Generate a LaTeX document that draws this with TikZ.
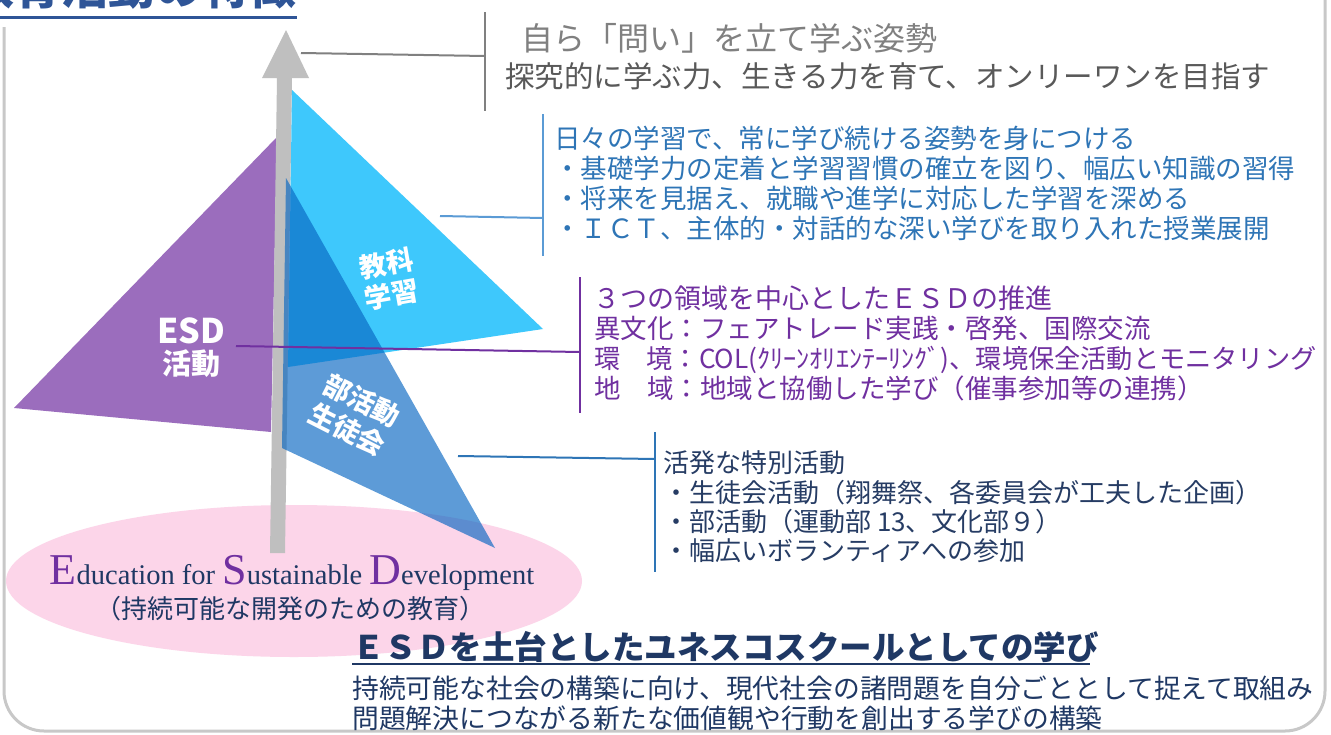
\documentclass[tikz,border=0pt]{standalone}
\usepackage{fontspec}
\setmainfont{Noto Sans CJK JP}
\newfontfamily\enfont{Liberation Serif}
\usetikzlibrary{positioning}

\definecolor{framegray}{RGB}{200,200,200}
\definecolor{titleblue}{RGB}{47,85,151}
\definecolor{arrowgray}{RGB}{191,191,191}
\definecolor{esdpurple}{RGB}{155,109,189}
\definecolor{kyokacyan}{RGB}{62,200,252}
\definecolor{bukatsublue}{RGB}{7,102,194}
\definecolor{esdpink}{RGB}{252,213,233}
\definecolor{mottogray}{RGB}{128,128,128}
\definecolor{mottodark}{RGB}{89,89,89}
\definecolor{kyokatext}{RGB}{46,117,182}
\definecolor{kyokaline}{RGB}{91,155,213}
\definecolor{esdtext}{RGB}{112,48,160}
\definecolor{bukatsutext}{RGB}{38,60,100}
\definecolor{bukatsuline}{RGB}{46,117,182}
\definecolor{navy}{RGB}{31,56,100}

\newcommand{\capletter}[1]{{\color{esdtext}\fontsize{44}{46}\selectfont #1}}

\tikzset{
  textline/.style={anchor=base west,inner sep=0pt},
  trilabel/.style={text=white,align=center,inner sep=0pt,font=\bfseries\fontsize{27}{33}\selectfont},
  bracket/.style={line width=2pt}
}

\begin{document}
\begin{tikzpicture}[x=1pt,y=-1pt]
\useasboundingbox (0,0) rectangle (1331,734);
\fill[white] (0,0) rectangle (1331,734);

% frame and title
\draw[framegray,line width=3pt,rounded corners=40pt] (4,-40) rectangle (1325,731);
\fill[white] (0,0) rectangle (300,27);
\node[anchor=base east,inner sep=0pt,text=titleblue,font=\bfseries\fontsize{47}{50}\selectfont] (title) at (297,4) {教育活動の特徴};
\draw[titleblue,line width=3pt] (0,17) -- (297,17);

% base ellipse
\fill[esdpink] (294,581) ellipse [x radius=288pt, y radius=76pt];

% triangles and arrow
\fill[esdpurple] (277,137) -- (14,408) -- (271,432) -- cycle;
\fill[arrowgray] (277,78) -- (262,78) -- (286,30) -- (309,78) -- (292,78) -- (285,553) -- (270,553) -- cycle;
\fill[kyokacyan] (292,90) -- (543,329) -- (288,367) -- cycle;
\fill[bukatsublue,opacity=0.65] (286,178) -- (495,548) -- (282,448) -- cycle;

\node[trilabel,rotate=10,font=\bfseries\fontsize{27}{31}\selectfont] (kyoka) at (389,279) {教科\\学習};
\node[trilabel,font=\bfseries\fontsize{29}{31}\selectfont] (esd) at (191,348) {{\fontsize{34}{35}\selectfont ESD}\\活動};
\node[trilabel,rotate=-27] (bukatsu) at (355,415) {部活動\\生徒会};

% ellipse text
\node[anchor=base,inner sep=0pt,text=navy,font=\enfont\fontsize{28.5}{30}\selectfont] (esd-en) at (292,584) {\capletter{E}ducation for \capletter{S}ustainable \capletter{D}evelopment};
\node[anchor=base,inner sep=0pt,text=navy,font=\fontsize{26}{28}\selectfont] (esd-jp) at (290,618) {（持続可能な開発のための教育）};

% connectors
\coordinate (motto-in) at (301,53);
\coordinate (motto-out) at (485,56);
\coordinate (motto-top) at (485,12);
\coordinate (motto-bot) at (485,111);
\draw[mottogray,bracket] (motto-in) -- (motto-out);
\draw[mottogray,bracket] (motto-top) -- (motto-bot);

\coordinate (kyoka-in) at (440,216);
\coordinate (kyoka-out) at (543,218);
\coordinate (kyoka-top) at (543,114);
\coordinate (kyoka-bot) at (543,256);
\draw[kyokaline,bracket] (kyoka-in) -- (kyoka-out);
\draw[kyokaline,bracket] (kyoka-top) -- (kyoka-bot);

\coordinate (esd-in) at (236,346);
\coordinate (esd-out) at (580,352);
\coordinate (esd-top) at (580,277);
\coordinate (esd-bot) at (580,413);
\draw[esdtext,bracket] (esd-in) -- (esd-out);
\draw[esdtext,bracket] (esd-top) -- (esd-bot);

\coordinate (bukatsu-in) at (458,456);
\coordinate (bukatsu-out) at (655,459);
\coordinate (bukatsu-top) at (655,432);
\coordinate (bukatsu-bot) at (655,572);
\draw[bukatsuline,bracket] (bukatsu-in) -- (bukatsu-out);
\draw[bukatsuline,bracket] (bukatsu-top) -- (bukatsu-bot);

% texts
\node[textline,text=mottogray,font=\fontsize{32}{34}\selectfont] (motto1) at (521,50) {自ら「問い」を立て学ぶ姿勢};
\node[textline,text=mottodark,font=\fontsize{29.5}{32}\selectfont] (motto2) at (505,87) {探究的に学ぶ力、生きる力を育て、オンリーワンを目指す};

\node[textline,text=kyokatext,font=\fontsize{26.5}{30}\selectfont] (kyoka1) at (554,148) {日々の学習で、常に学び続ける姿勢を身につける};
\node[textline,text=kyokatext,font=\fontsize{26.5}{30}\selectfont] (kyoka2) at (554,178) {・基礎学力の定着と学習習慣の確立を図り、幅広い知識の習得};
\node[textline,text=kyokatext,font=\fontsize{26.5}{30}\selectfont] (kyoka3) at (554,208) {・将来を見据え、就職や進学に対応した学習を深める};
\node[textline,text=kyokatext,font=\fontsize{26.5}{30}\selectfont] (kyoka4) at (554,238) {・ＩＣＴ、主体的・対話的な深い学びを取り入れた授業展開};

\node[textline,text=esdtext,font=\fontsize{27}{30}\selectfont] (esd1) at (593,308) {３つの領域を中心としたＥＳＤの推進};
\node[textline,text=esdtext,font=\fontsize{26.5}{30}\selectfont] (esd2) at (594,338) {異文化：フェアトレード実践・啓発、国際交流};
\node[textline,text=esdtext,font=\fontsize{26.2}{30}\selectfont] (esd3) at (594,368) {環　境：COL(ｸﾘｰﾝｵﾘｴﾝﾃｰﾘﾝｸﾞ)、環境保全活動とモニタリング};
\node[textline,text=esdtext,font=\fontsize{26.5}{30}\selectfont] (esd4) at (594,398) {地　域：地域と協働した学び（催事参加等の連携）};

\node[textline,text=bukatsutext,font=\fontsize{26}{30}\selectfont] (bukatsu1) at (663,472) {活発な特別活動};
\node[textline,text=bukatsutext,font=\fontsize{26}{30}\selectfont] (bukatsu2) at (663,502) {・生徒会活動（翔舞祭、各委員会が工夫した企画）};
\node[textline,text=bukatsutext,font=\fontsize{26}{30}\selectfont] (bukatsu3) at (663,531) {・部活動（運動部 13、文化部９）};
\node[textline,text=bukatsutext,font=\fontsize{26}{30}\selectfont] (bukatsu4) at (663,560) {・幅広いボランティアへの参加};

% bottom
\node[textline,text=navy,font=\bfseries\fontsize{32.5}{34}\selectfont] (unesco) at (352,659) {ＥＳＤを土台としたユネスコスクールとしての学び};
\draw[navy,line width=2.5pt] (unesco.south west |- 0,664) -- (1090,664);
\node[textline,text=navy,font=\fontsize{26.8}{30}\selectfont] (unesco1) at (352,698) {持続可能な社会の構築に向け、現代社会の諸問題を自分ごととして捉えて取組み};
\node[textline,text=navy,font=\fontsize{26.8}{30}\selectfont] (unesco2) at (352,728) {問題解決につながる新たな価値観や行動を創出する学びの構築};
\end{tikzpicture}
\end{document}
